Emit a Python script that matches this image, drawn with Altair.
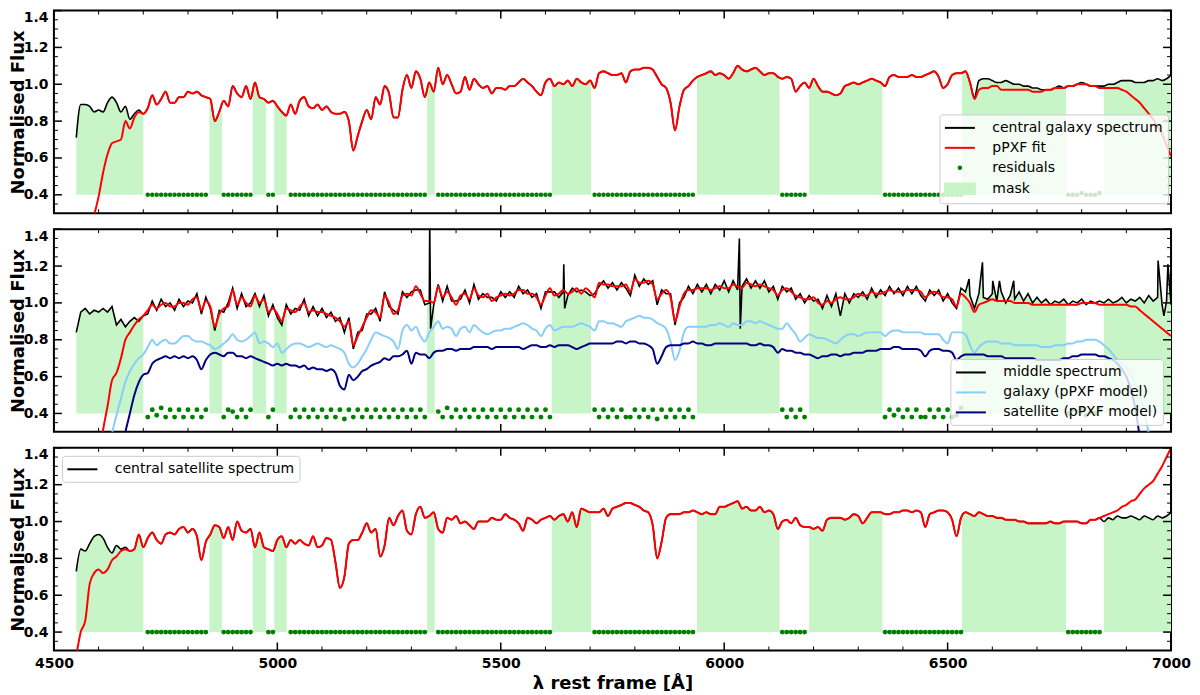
import altair as alt
import pandas as pd

# ---------------- data ----------------
WAVE = list(range(4550, 7001, 10))

MASK_LO = [4550, 4848, 4945, 4993, 5335, 5614, 5939, 6190, 6532, 6850]
MASK_HI = [4700, 4876, 4975, 5021, 5352, 5702, 6124, 6354, 6765, 7000]

X_MAJOR = [4500, 5000, 5500, 6000, 6500, 7000]
X_MINOR = [4600, 4700, 4800, 4900, 5100, 5200, 5300, 5400, 5600, 5700,
           5800, 5900, 6100, 6200, 6300, 6400, 6600, 6700, 6800, 6900]
Y_MAJOR = [0.4, 0.6, 0.8, 1.0, 1.2, 1.4]
Y_MINOR = [0.35, 0.45, 0.5, 0.55, 0.65, 0.7, 0.75, 0.85, 0.9, 0.95,
           1.05, 1.1, 1.15, 1.25, 1.3, 1.35]

TOP_NAMES = ["central galaxy spectrum", "pPXF fit", "residuals", "mask"]
MID_NAMES = ["middle spectrum", "galaxy (pPXF model)", "satellite (pPXF model)"]
BOT_NAMES = ["central satellite spectrum"]

# top panel: pPXF fit (red) on the 10 A grid
TOP_FIT = [
    -0.05, 0.03, 0.12, 0.21, 0.29,
    0.39, 0.52, 0.62, 0.68, 0.69, 0.70, 0.80, 0.76, 0.82, 0.85,
    0.84, 0.87, 0.94, 0.89, 0.92, 0.96, 0.90, 0.90, 0.93, 0.93,
    0.96, 0.95, 0.96, 0.94, 0.93, 0.92, 0.80, 0.85, 0.91, 0.88,
    0.99, 0.95, 0.93, 0.99, 0.92, 1.01, 0.93, 0.92, 0.90, 0.91,
    0.88, 0.85, 0.83, 0.89, 0.84, 0.91, 0.93, 0.88, 0.87, 0.89,
    0.86, 0.88, 0.85, 0.84, 0.84, 0.85, 0.80, 0.64, 0.72, 0.80,
    0.86, 0.81, 0.93, 0.89, 0.99, 0.95, 0.82, 0.82, 0.97, 1.05,
    0.98, 1.07, 1.03, 0.93, 1.01, 0.96, 1.09, 1.00, 1.05, 1.00,
    0.95, 0.96, 1.04, 0.97, 1.03, 1.00, 0.98, 0.99, 0.95, 0.98,
    0.98, 0.97, 0.99, 0.99, 1.01, 1.03, 1.01, 0.99, 0.96, 0.94,
    1.01, 1.03, 0.99, 1.01, 1.00, 1.02, 0.99, 1.03, 1.01, 1.00,
    1.02, 0.98, 1.06, 1.07, 1.06, 1.05, 1.05, 1.06, 1.01, 1.07,
    1.08, 1.08, 1.09, 1.09, 1.08, 1.04, 1.00, 0.98, 0.90, 0.75,
    0.88, 0.97, 0.99, 1.02, 1.04, 1.05, 1.06, 1.07, 1.05, 1.06,
    1.05, 1.03, 1.06, 1.10, 1.08, 1.07, 1.08, 1.09, 1.07, 1.05,
    1.06, 1.06, 1.04, 1.03, 1.04, 1.03, 0.96, 0.99, 1.01, 0.98,
    1.03, 0.99, 0.96, 0.96, 0.95, 0.94, 0.95, 0.99, 1.00, 1.01,
    1.00, 1.01, 1.02, 1.03, 1.02, 1.01, 0.99, 1.04, 1.05, 1.04,
    1.04, 1.04, 1.05, 1.04, 1.04, 1.05, 1.06, 1.07, 1.04, 0.98,
    1.00, 1.05, 1.06, 1.06, 1.07, 1.01, 0.92, 0.97, 0.98, 0.98,
    0.99, 0.99, 0.97, 0.97, 0.97, 0.97, 0.97, 0.97, 0.97, 0.96,
    0.96, 0.96, 0.97, 0.97, 0.98, 0.98, 0.98, 0.99, 0.99, 1.00,
    1.00, 1.00, 0.99, 0.99, 0.98, 0.98, 0.98, 0.98, 0.98, 0.97,
    0.96, 0.94, 0.92, 0.90, 0.87, 0.84, 0.81, 0.77, 0.73, 0.67,
    0.61]
# top spectrum where it departs from the fit (4550-4700 and 6550-7000)
TOP_SPEC_BLUE = [0.71, 0.89, 0.89, 0.88, 0.85, 0.86, 0.85, 0.90, 0.93, 0.90,
                 0.85, 0.88, 0.81, 0.84, 0.86, 0.84]
TOP_SPEC_RED = [
    1.01, 0.93, 1.02, 1.03, 1.03,
    1.02, 1.01, 1.01, 1.02, 1.01, 1.00, 1.00, 0.99, 0.99, 0.98,
    0.98, 0.97, 0.97, 0.97, 0.98, 0.99, 0.98, 0.99, 0.99, 1.00,
    1.01, 1.00, 0.99, 0.99, 0.99, 0.99, 1.00, 1.00, 1.01, 1.02,
    1.02, 1.02, 1.01, 1.01, 1.01, 1.02, 1.02, 1.03, 1.02, 1.03,
    1.05]

# middle panel
MID_FIT = [
    -0.45, -0.33, -0.20, -0.08, 0.03,
    0.15, 0.31, 0.44, 0.58, 0.62, 0.70, 0.80, 0.84, 0.88, 0.91,
    0.93, 0.96, 0.99, 0.97, 0.99, 1.00, 0.98, 0.98, 1.00, 1.00,
    0.99, 1.02, 1.03, 0.96, 1.01, 0.98, 0.87, 0.94, 0.97, 0.98,
    1.07, 0.99, 1.03, 1.00, 0.98, 1.04, 1.00, 1.02, 0.95, 0.97,
    0.94, 0.90, 0.97, 0.96, 0.95, 0.98, 1.00, 0.95, 0.96, 0.95,
    0.95, 0.94, 0.93, 0.92, 0.90, 0.87, 0.90, 0.77, 0.82, 0.87,
    0.92, 0.96, 0.95, 0.92, 1.04, 1.00, 0.94, 0.96, 1.04, 1.05,
    1.04, 1.09, 1.05, 1.01, 1.01, 1.00, 1.09, 1.03, 1.06, 1.03,
    0.99, 1.04, 1.05, 1.02, 1.08, 1.04, 1.03, 1.05, 1.01, 1.03,
    1.04, 1.05, 1.04, 1.05, 1.07, 1.07, 1.05, 1.05, 1.03, 0.99,
    1.04, 1.08, 1.04, 1.05, 1.07, 1.05, 1.06, 1.08, 1.05, 1.08,
    1.06, 1.03, 1.11, 1.10, 1.10, 1.09, 1.09, 1.09, 1.10, 1.06,
    1.13, 1.11, 1.11, 1.12, 1.10, 1.02, 1.05, 1.07, 1.03, 0.90,
    0.98, 1.05, 1.07, 1.07, 1.08, 1.08, 1.08, 1.07, 1.08, 1.09,
    1.08, 1.08, 1.10, 1.09, 1.08, 1.11, 1.10, 1.09, 1.10, 1.09,
    1.08, 1.07, 1.04, 1.07, 1.08, 1.06, 1.04, 1.03, 1.02, 1.02,
    1.03, 1.00, 0.99, 1.01, 1.00, 1.02, 1.03, 1.02, 1.02, 1.03,
    1.05, 1.04, 1.04, 1.06, 1.05, 1.05, 1.06, 1.07, 1.06, 1.06,
    1.06, 1.07, 1.07, 1.07, 1.06, 1.03, 1.05, 1.06, 1.05, 1.03,
    1.03, 1.02, 0.98, 1.05, 1.03, 1.00, 0.95, 0.99, 1.00, 1.01,
    1.02, 1.01, 1.01, 1.01, 1.01, 1.00, 1.00, 1.00, 1.00, 0.99,
    0.99, 0.99, 0.99, 0.99, 0.99, 0.99, 0.99, 0.99, 0.99, 0.99,
    1.00, 1.00, 1.00, 1.00, 0.99, 0.99, 0.99, 0.99, 0.99, 0.99,
    0.99, 0.98, 0.98, 0.96, 0.94, 0.92, 0.90, 0.88, 0.86, 0.84,
    0.82]
MID_SPEC = [
    0.84, 0.95, 0.97, 0.94, 0.96,
    0.95, 0.97, 0.95, 0.98, 0.88, 0.91, 0.87, 0.90, 0.92, 0.90,
    0.93, 0.94, 1.01, 0.96, 1.02, 0.98, 1.00, 0.96, 1.02, 0.98,
    1.01, 1.00, 1.05, 0.94, 1.03, 0.97, 0.85, 0.96, 0.95, 1.00,
    1.08, 0.97, 1.05, 0.98, 1.00, 1.05, 0.98, 1.04, 0.93, 0.99,
    0.92, 0.88, 0.99, 0.94, 0.97, 0.96, 1.02, 0.93, 0.98, 0.93,
    0.97, 0.92, 0.95, 0.90, 0.92, 0.84, 0.92, 0.75, 0.84, 0.85,
    0.94, 0.94, 0.97, 0.90, 1.06, 0.98, 0.96, 0.94, 1.06, 1.03,
    1.06, 1.07, 1.07, 0.99, 1.00, 0.99, 1.10, 1.01, 1.09, 1.01,
    1.01, 1.02, 1.07, 1.00, 1.10, 1.02, 1.05, 1.03, 1.03, 1.01,
    1.06, 1.03, 1.06, 1.03, 1.09, 1.05, 1.07, 1.03, 1.05, 0.97,
    1.06, 1.06, 1.06, 1.03, 1.06, 1.04, 1.08, 1.06, 1.07, 1.06,
    1.04, 1.05, 1.09, 1.12, 1.08, 1.11, 1.07, 1.11, 1.08, 1.04,
    1.15, 1.09, 1.13, 1.10, 1.12, 0.99, 1.07, 1.05, 1.05, 0.88,
    1.00, 1.03, 1.09, 1.05, 1.10, 1.06, 1.10, 1.05, 1.10, 1.07,
    1.12, 1.06, 1.12, 1.07, 1.09, 1.13, 1.08, 1.12, 1.08, 1.12,
    1.06, 1.09, 1.02, 1.09, 1.06, 1.08, 1.02, 1.05, 1.00, 1.04,
    1.01, 1.02, 0.97, 1.04, 0.98, 1.05, 0.93, 1.05, 1.00, 1.05,
    1.03, 1.06, 1.02, 1.08, 1.03, 1.07, 1.04, 1.09, 1.05, 1.08,
    1.04, 1.09, 1.05, 1.09, 1.04, 1.01, 1.07, 1.04, 1.07, 1.01,
    1.05, 1.00, 0.97, 1.08, 1.06, 1.04, 0.97, 1.05, 1.03, 1.02,
    1.05, 1.01, 1.06, 1.00, 1.04, 1.02, 1.06, 1.01, 1.05, 1.00,
    1.03, 1.00, 1.02, 0.99, 1.01, 1.00, 1.02, 0.99, 1.01, 1.00,
    1.02, 0.99, 1.01, 1.00, 1.01, 1.00, 1.02, 1.00, 1.01, 1.03,
    1.00, 1.02, 1.01, 1.03, 1.00, 1.04, 1.01, 1.03, 0.99, 1.01,
    0.99]
# narrow spikes of the middle spectrum (sky lines / cosmic rays)
MID_SPIKE_W = [5341, 5343, 5641, 5643, 6034, 6036, 6548, 6578, 6601, 6616,
               6648, 6971, 6984, 6993]
MID_SPIKE_V = [1.45, 0.86, 1.21, 0.97, 1.35, 0.86, 1.13, 1.22, 1.12, 1.12,
               1.12, 1.23, 0.93, 1.21]
MID_GAL = [
    None, None, None, None, None,
    None, 0.05, 0.17, 0.29, 0.39, 0.48, 0.57, 0.63, 0.67, 0.70,
    0.72, 0.76, 0.80, 0.77, 0.79, 0.80, 0.78, 0.78, 0.80, 0.82,
    0.82, 0.80, 0.79, 0.79, 0.78, 0.77, 0.75, 0.76, 0.78, 0.80,
    0.83, 0.80, 0.79, 0.80, 0.82, 0.84, 0.78, 0.79, 0.78, 0.76,
    0.78, 0.73, 0.75, 0.77, 0.78, 0.78, 0.77, 0.76, 0.77, 0.78,
    0.77, 0.76, 0.77, 0.76, 0.75, 0.73, 0.67, 0.65, 0.67, 0.71,
    0.75, 0.80, 0.84, 0.83, 0.82, 0.81, 0.79, 0.75, 0.85, 0.88,
    0.85, 0.87, 0.82, 0.79, 0.84, 0.87, 0.90, 0.86, 0.87, 0.86,
    0.82, 0.86, 0.87, 0.84, 0.88, 0.86, 0.84, 0.83, 0.84, 0.85,
    0.85, 0.86, 0.86, 0.87, 0.88, 0.89, 0.88, 0.86, 0.85, 0.82,
    0.86, 0.88, 0.85, 0.86, 0.87, 0.87, 0.87, 0.88, 0.89, 0.88,
    0.87, 0.85, 0.90, 0.90, 0.89, 0.89, 0.88, 0.87, 0.90, 0.91,
    0.92, 0.93, 0.92, 0.92, 0.91, 0.89, 0.88, 0.86, 0.79, 0.69,
    0.74, 0.84, 0.87, 0.87, 0.87, 0.87, 0.87, 0.88, 0.88, 0.89,
    0.88, 0.87, 0.89, 0.88, 0.88, 0.90, 0.90, 0.89, 0.90, 0.89,
    0.88, 0.87, 0.86, 0.86, 0.89, 0.86, 0.83, 0.79, 0.81, 0.83,
    0.82, 0.81, 0.81, 0.80, 0.79, 0.78, 0.80, 0.82, 0.83, 0.83,
    0.82, 0.83, 0.84, 0.84, 0.84, 0.84, 0.82, 0.84, 0.85, 0.85,
    0.84, 0.84, 0.84, 0.84, 0.84, 0.83, 0.83, 0.83, 0.83, 0.80,
    0.78, 0.84, 0.84, 0.84, 0.83, 0.77, 0.73, 0.76, 0.78, 0.79,
    0.79, 0.79, 0.78, 0.78, 0.78, 0.77, 0.77, 0.77, 0.77, 0.77,
    0.77, 0.76, 0.76, 0.76, 0.77, 0.77, 0.77, 0.78, 0.78, 0.79,
    0.79, 0.80, 0.80, 0.80, 0.79, 0.77, 0.75, 0.72, 0.69, 0.67,
    0.65, 0.61, 0.56, 0.50, 0.41, 0.29, 0.15, None, None, None,
    None]
MID_SAT = [
    None, None, None, None, None,
    None, None, None, None, None, 0.18, 0.30, 0.40, 0.50, 0.57,
    0.61, 0.62, 0.67, 0.69, 0.70, 0.71, 0.70, 0.71, 0.70, 0.71,
    0.70, 0.71, 0.69, 0.64, 0.69, 0.72, 0.73, 0.72, 0.71, 0.73,
    0.73, 0.71, 0.71, 0.70, 0.71, 0.70, 0.69, 0.68, 0.67, 0.66,
    0.67, 0.66, 0.67, 0.66, 0.66, 0.65, 0.66, 0.64, 0.65, 0.64,
    0.64, 0.63, 0.64, 0.62, 0.55, 0.53, 0.61, 0.58, 0.60, 0.63,
    0.64, 0.66, 0.67, 0.68, 0.70, 0.69, 0.71, 0.71, 0.72, 0.74,
    0.67, 0.73, 0.72, 0.72, 0.70, 0.73, 0.74, 0.74, 0.75, 0.75,
    0.74, 0.75, 0.75, 0.75, 0.76, 0.76, 0.76, 0.76, 0.75, 0.76,
    0.76, 0.76, 0.76, 0.76, 0.76, 0.75, 0.76, 0.77, 0.77, 0.76,
    0.76, 0.77, 0.76, 0.77, 0.77, 0.77, 0.76, 0.75, 0.76, 0.77,
    0.78, 0.78, 0.78, 0.78, 0.78, 0.78, 0.79, 0.79, 0.78, 0.79,
    0.79, 0.78, 0.78, 0.77, 0.75, 0.67, 0.71, 0.76, 0.77, 0.77,
    0.77, 0.78, 0.78, 0.79, 0.78, 0.78, 0.77, 0.77, 0.78, 0.78,
    0.78, 0.78, 0.78, 0.78, 0.78, 0.78, 0.77, 0.77, 0.78, 0.77,
    0.77, 0.76, 0.73, 0.75, 0.74, 0.74, 0.73, 0.73, 0.72, 0.72,
    0.71, 0.70, 0.71, 0.71, 0.72, 0.72, 0.71, 0.72, 0.72, 0.73,
    0.73, 0.73, 0.74, 0.74, 0.74, 0.75, 0.75, 0.75, 0.76, 0.76,
    0.75, 0.75, 0.75, 0.75, 0.74, 0.71, 0.74, 0.75, 0.75, 0.74,
    0.74, 0.73, 0.69, 0.71, 0.72, 0.72, 0.72, 0.72, 0.72, 0.71,
    0.71, 0.71, 0.71, 0.70, 0.70, 0.70, 0.70, 0.70, 0.70, 0.70,
    0.69, 0.69, 0.69, 0.69, 0.69, 0.69, 0.70, 0.70, 0.71, 0.71,
    0.72, 0.72, 0.72, 0.72, 0.71, 0.71, 0.70, 0.69, 0.67, 0.64,
    0.60, 0.53, 0.43, 0.27, None, None, None, None, None, None,
    None]

# bottom panel
BOT_FIT = [
    0.27, 0.40, 0.46, 0.66, 0.72,
    0.74, 0.72, 0.74, 0.79, 0.81, 0.84, 0.85, 0.84, 0.85, 0.93,
    0.86, 0.91, 0.94, 0.90, 0.88, 0.93, 0.94, 0.93, 0.96, 0.97,
    0.94, 0.96, 0.92, 0.79, 0.89, 0.93, 0.98, 0.97, 0.91, 0.97,
    0.90, 1.00, 0.95, 0.94, 0.96, 0.86, 0.94, 0.86, 0.85, 0.84,
    0.90, 0.92, 0.86, 0.90, 0.88, 0.90, 0.88, 0.87, 0.92, 0.86,
    0.87, 0.91, 0.90, 0.78, 0.64, 0.70, 0.88, 0.90, 0.90, 0.94,
    0.99, 0.94, 0.96, 0.81, 0.87, 1.02, 0.98, 1.03, 1.06, 0.95,
    0.93, 1.04, 1.08, 1.02, 1.03, 1.05, 0.96, 0.94, 1.02, 1.01,
    1.03, 0.99, 1.00, 0.98, 0.96, 1.00, 1.00, 1.00, 1.02, 1.01,
    1.01, 1.04, 1.02, 1.01, 0.99, 0.95, 1.02, 1.01, 0.99, 1.01,
    1.02, 1.03, 1.01, 1.03, 1.04, 1.00, 1.05, 0.97, 1.07, 1.06,
    1.05, 1.05, 1.05, 1.07, 1.03, 1.07, 1.08, 1.09, 1.10, 1.10,
    1.09, 1.08, 1.06, 1.05, 0.98, 0.80, 0.89, 1.02, 1.04, 1.04,
    1.04, 1.05, 1.05, 1.06, 1.05, 1.04, 1.05, 1.04, 1.04, 1.08,
    1.08, 1.09, 1.10, 1.11, 1.07, 1.08, 1.06, 1.06, 1.08, 1.05,
    1.06, 1.04, 0.96, 1.00, 1.01, 0.99, 1.02, 0.98, 0.97, 0.97,
    0.96, 0.97, 0.95, 1.01, 1.02, 1.02, 1.02, 1.01, 1.02, 1.04,
    1.03, 0.99, 1.02, 1.05, 1.05, 1.05, 1.04, 1.04, 1.05, 1.05,
    1.06, 1.06, 1.05, 1.06, 1.05, 0.97, 1.04, 1.05, 1.06, 1.06,
    1.05, 1.01, 0.92, 1.02, 1.05, 1.04, 1.03, 1.05, 1.04, 1.03,
    1.03, 1.02, 1.02, 1.01, 1.01, 1.01, 1.00, 1.00, 0.99, 0.99,
    0.99, 0.99, 0.99, 1.00, 0.99, 0.99, 1.00, 1.00, 1.00, 1.00,
    0.99, 0.99, 1.01, 1.01, 1.02, 1.03, 1.04, 1.05, 1.06, 1.08,
    1.09, 1.11, 1.12, 1.15, 1.18, 1.20, 1.22, 1.26, 1.30, 1.35,
    1.40]
BOT_SPEC_BLUE = [0.73, 0.85, 0.84, 0.88, 0.92, 0.93, 0.91, 0.86, 0.83, 0.87,
                 0.85, 0.86, 0.84, 0.85, 0.93, 0.86]
BOT_SPEC_RED = [1.00, 1.02, 1.01, 1.03, 1.02, 1.02, 1.03, 1.02, 1.01, 1.03,
                1.02, 1.01, 1.03, 1.02, 1.03, 1.05]

TOP_SPEC = TOP_SPEC_BLUE + TOP_FIT[16:200] + TOP_SPEC_RED
BOT_SPEC = BOT_SPEC_BLUE + BOT_FIT[16:230] + BOT_SPEC_RED

# ---------------- styling ----------------
W, H = 1119, 203
FONT = "DejaVu Sans"
MASK_COLOR = "#c8f5c8"
RES_COLOR = "#008000"
SMOOTH = "monotone"
XS = alt.Scale(domain=[4500, 7000], nice=False, zero=False)
YS = alt.Scale(domain=[0.3, 1.4], nice=False, zero=False)
LINE_PATH = "M-2,0H2"
RECT_PATH = "M-2,-0.7H2V0.7H-2Z"
DOT_PATH = "M-0.17,0A0.17,0.17,0,1,0,0.17,0A0.17,0.17,0,1,0,-0.17,0Z"


def in_mask(w):
    return any(lo <= w <= hi for lo, hi in zip(MASK_LO, MASK_HI))


def line_df(ws, vs, name):
    pts = sorted((w, v) for w, v in zip(ws, vs) if v is not None)
    return pd.DataFrame({"w": [p[0] for p in pts], "v": [p[1] for p in pts], "s": name})


def resid_df(spec, fit):
    rows = [(w, round(s - f + 0.4, 4)) for w, s, f in zip(WAVE, spec, fit) if not in_mask(w)]
    return pd.DataFrame({"w": [r[0] for r in rows], "v": [r[1] for r in rows], "s": "residuals"})


def mask_df(ws, vs):
    pts = sorted(zip(ws, vs))
    rows = []
    for k, (lo, hi) in enumerate(zip(MASK_LO, MASK_HI)):
        inside = [(w, v) for w, v in pts if lo <= w <= hi]
        if not inside:
            continue
        if inside[0][0] > lo:
            inside.insert(0, (lo, inside[0][1]))
        if inside[-1][0] < hi:
            inside.append((hi, inside[-1][1]))
        rows += [{"w": w, "v": v, "b": 0.4, "seg": k} for w, v in inside]
    return pd.DataFrame(rows)


Y_AXIS = alt.Axis(values=Y_MAJOR, format=".1f", title="Normalised Flux",
                  labelFontSize=14, labelFontWeight="bold", titleFontSize=18,
                  titleFontWeight="bold", ticks=False, domain=False, grid=False,
                  labelPadding=6, titlePadding=-4, labelFlush=True,
                  labelFont=FONT, titleFont=FONT, labelColor="black", titleColor="black")

X_AXIS = alt.Axis(values=X_MAJOR, format="d", title="λ rest frame [Å]",
                  labelFontSize=14, labelFontWeight="bold", titleFontSize=18,
                  titleFontWeight="bold", ticks=False, domain=False, grid=False,
                  labelPadding=6, titlePadding=4, labelFlush=False,
                  labelFont=FONT, titleFont=FONT, labelColor="black", titleColor="black")


def legend(x, y, **kw):
    return alt.Legend(title=None, orient="none", legendX=x, legendY=y,
                      fillColor="rgba(255,255,255,0.8)", strokeColor="#cccccc",
                      cornerRadius=3, padding=5, labelFontSize=14, labelFont=FONT,
                      labelColor="black", labelLimit=400, symbolSize=225,
                      symbolStrokeWidth=2, symbolOffset=7, labelOffset=24,
                      rowPadding=4, **kw)


def make_panel(show_x, spec_w, spec_v, build_layers, area_interp):
    xa = X_AXIS if show_x else None
    xe = alt.X("w:Q", scale=XS, axis=xa)
    ye = alt.Y("v:Q", scale=YS, axis=Y_AXIS)
    xt = alt.X("t:Q", scale=XS, axis=xa)
    yt = alt.Y("t:Q", scale=YS, axis=Y_AXIS)

    area = alt.Chart(mask_df(spec_w, spec_v)).mark_area(
        color=MASK_COLOR, clip=True, interpolate=area_interp).encode(
        x=xe, y=ye, y2="b:Q", detail="seg:N")
    layers = [area] + build_layers(xe, ye)

    for vals, ln, sw in [(X_MAJOR, 8, 1.5), (X_MINOR, 4, 1.0)]:
        base = alt.Chart(pd.DataFrame({"t": vals})).mark_rule(color="black", strokeWidth=sw)
        layers.append(base.encode(x=xt, y=alt.value(H), y2=alt.value(H - ln)))
        layers.append(base.encode(x=xt, y=alt.value(0), y2=alt.value(ln)))
    for vals, ln, sw in [(Y_MAJOR, 8, 1.5), (Y_MINOR, 4, 1.0)]:
        base = alt.Chart(pd.DataFrame({"t": vals})).mark_rule(color="black", strokeWidth=sw)
        layers.append(base.encode(y=yt, x=alt.value(0), x2=alt.value(ln)))
        layers.append(base.encode(y=yt, x=alt.value(W), x2=alt.value(W - ln)))
    return alt.layer(*layers).properties(width=W, height=H)


# ---- top panel ----
def top_layers(xe, ye):
    leg = legend(887, 104)
    cols = ["black", "red", RES_COLOR, MASK_COLOR]
    res = alt.Chart(resid_df(TOP_SPEC, TOP_FIT)).mark_point(
        filled=True, size=225, strokeWidth=2, opacity=1, clip=True).encode(
        x=xe, y=ye,
        fill=alt.Fill("s:N", scale=alt.Scale(domain=TOP_NAMES, range=cols), legend=leg),
        stroke=alt.Stroke("s:N", scale=alt.Scale(domain=TOP_NAMES, range=cols), legend=leg),
        shape=alt.Shape("s:N", scale=alt.Scale(domain=TOP_NAMES, range=[LINE_PATH, LINE_PATH, DOT_PATH, RECT_PATH]), legend=leg),
    )
    black = alt.Chart(line_df(WAVE, TOP_SPEC, TOP_NAMES[0])).mark_line(
        color="black", strokeWidth=1.6, clip=True, interpolate=SMOOTH).encode(x=xe, y=ye)
    red = alt.Chart(line_df(WAVE, TOP_FIT, TOP_NAMES[1])).mark_line(
        color="red", strokeWidth=2, clip=True, interpolate=SMOOTH).encode(x=xe, y=ye)
    return [res, black, red]


# ---- middle panel ----
mid_w = WAVE + MID_SPIKE_W
mid_v = MID_SPEC + MID_SPIKE_V


def mid_layers(xe, ye):
    leg = legend(898, 130, symbolType=LINE_PATH)
    sc = alt.Scale(domain=MID_NAMES, range=["black", "#87cefa", "#000080"])
    res = alt.Chart(resid_df(MID_SPEC, MID_FIT)).mark_circle(
        size=24, color=RES_COLOR, opacity=1, clip=True).encode(x=xe, y=ye)
    black = alt.Chart(line_df(mid_w, mid_v, MID_NAMES[0])).mark_line(strokeWidth=1.6, clip=True).encode(
        x=xe, y=ye, color=alt.Color("s:N", scale=sc, legend=leg))
    red = alt.Chart(line_df(WAVE, MID_FIT, "fit")).mark_line(
        color="red", strokeWidth=2, clip=True, interpolate=SMOOTH).encode(x=xe, y=ye)
    gal = alt.Chart(line_df(WAVE, MID_GAL, MID_NAMES[1])).mark_line(
        strokeWidth=2, clip=True, interpolate=SMOOTH).encode(
        x=xe, y=ye, color=alt.Color("s:N", scale=sc, legend=leg))
    sat = alt.Chart(line_df(WAVE, MID_SAT, MID_NAMES[2])).mark_line(
        strokeWidth=2, clip=True, interpolate=SMOOTH).encode(
        x=xe, y=ye, color=alt.Color("s:N", scale=sc, legend=leg))
    return [res, black, red, gal, sat]


# ---- bottom panel ----
def bot_layers(xe, ye):
    leg = legend(8, 8, symbolType=LINE_PATH)
    sc = alt.Scale(domain=BOT_NAMES, range=["black"])
    res = alt.Chart(resid_df(BOT_SPEC, BOT_FIT)).mark_circle(
        size=24, color=RES_COLOR, opacity=1, clip=True).encode(x=xe, y=ye)
    black = alt.Chart(line_df(WAVE, BOT_SPEC, BOT_NAMES[0])).mark_line(
        strokeWidth=1.6, clip=True, interpolate=SMOOTH).encode(
        x=xe, y=ye, color=alt.Color("s:N", scale=sc, legend=leg))
    red = alt.Chart(line_df(WAVE, BOT_FIT, "fit")).mark_line(
        color="red", strokeWidth=2, clip=True, interpolate=SMOOTH).encode(x=xe, y=ye)
    return [res, black, red]


top = make_panel(False, WAVE, TOP_SPEC, top_layers, SMOOTH)
mid = make_panel(False, mid_w, mid_v, mid_layers, "linear")
bot = make_panel(True, WAVE, BOT_SPEC, bot_layers, SMOOTH)

chart = alt.vconcat(top, mid, bot, spacing=12).resolve_scale(
    color="independent", fill="independent", stroke="independent", shape="independent"
).resolve_legend(
    color="independent", fill="independent", stroke="independent", shape="independent"
).configure_view(stroke="black", strokeWidth=2).properties(
    padding={"left": 0, "top": 0, "right": 0, "bottom": 0}, background="white")

chart.save("out.html", embed_options={"renderer": "svg", "actions": False})
